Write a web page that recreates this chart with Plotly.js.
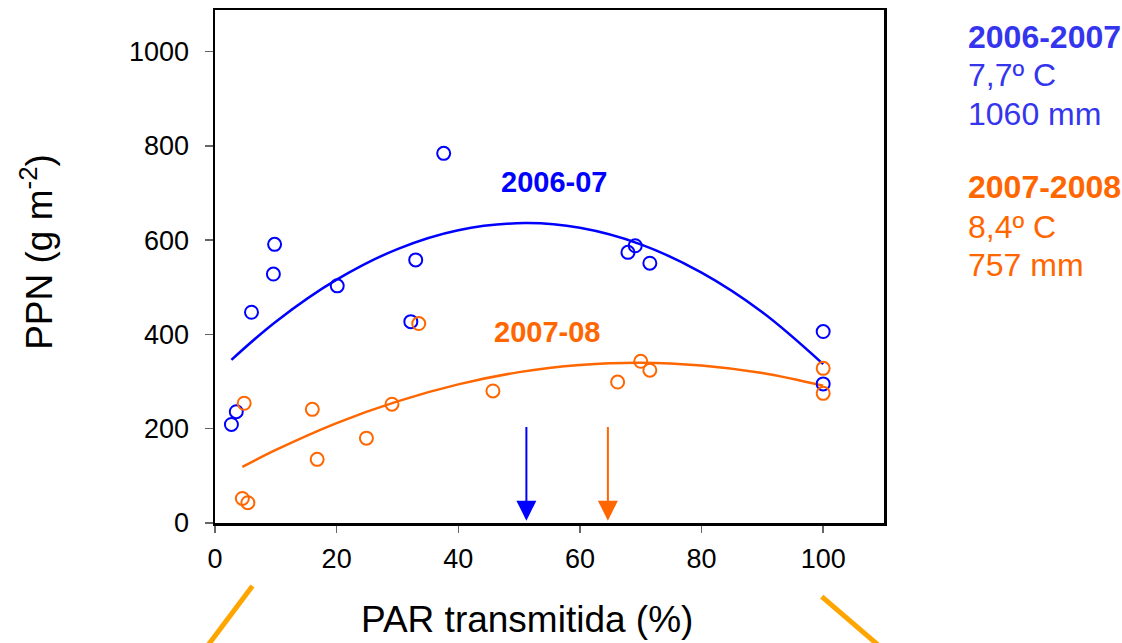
<!DOCTYPE html>
<html>
<head>
<meta charset="utf-8">
<script src="https://cdn.plot.ly/plotly-3.0.1.min.js"></script>
<style>html,body{margin:0;padding:0;background:#fff;}#chart{width:1122px;height:643px;}</style>
</head>
<body>
<div id="chart"></div>
<script>
// Observed points, season 2006-07
const blueX = [2.7, 3.5, 6.0, 9.6, 9.8, 20.1, 32.2, 33.0, 37.6, 67.9, 69.1, 71.5, 100, 100];
const blueY = [209, 236, 447, 528, 591, 503, 427, 558, 784, 574, 588, 551, 406, 295];
// Observed points, season 2007-08
const orangeX = [4.5, 4.8, 5.4, 16.0, 16.8, 24.9, 29.1, 33.5, 45.7, 66.2, 70.0, 71.5, 100, 100];
const orangeY = [52, 254, 43, 241, 135, 180, 252, 423, 280, 299, 343, 324, 328, 275];
// Fitted curves
const fitBlueX = [2.7, 10, 20, 30, 40, 51, 60, 70, 80, 90, 100];
const fitBlueY = [346, 427, 516, 581, 621, 636, 626, 591, 531, 447, 337];
const fitOrangeX = [4.5, 10, 20, 30, 40, 50, 60, 70, 80, 90, 100];
const fitOrangeY = [119, 155, 212, 258, 294, 320, 335, 340, 334, 318, 291];
// Optimum PAR arrows
const optimumX = [51.2, 64.6];
const arrowTopY = 207;
const arrowTipY = 5;
// Tick labels
const xTicks = [0, 20, 40, 60, 80, 100];
const yTicks = [0, 200, 400, 600, 800, 1000];
// Texts
const xTitle = 'PAR transmitida (%)';
const yTitle = 'PPN (g m<sup>-2</sup>)';
const seasonLabels = ['2006-07', '2007-08'];
const seasonInfo1 = ['2006-2007', '7,7º C', '1060 mm'];
const seasonInfo2 = ['2007-2008', '8,4º C', '757 mm'];

const BLUE = '#0000ff';
const ORANGE = '#ff6600';
const INFO_BLUE = '#3535ee';
const FONT = 'Liberation Sans, Arial, sans-serif';

const traces = [
  {x: fitBlueX, y: fitBlueY, mode: 'lines', line: {color: BLUE, width: 2.5, shape: 'spline'}, hoverinfo: 'skip'},
  {x: fitOrangeX, y: fitOrangeY, mode: 'lines', line: {color: ORANGE, width: 2.5, shape: 'spline'}, hoverinfo: 'skip'},
  {x: blueX, y: blueY, mode: 'markers', marker: {symbol: 'circle-open', size: 13, color: BLUE, line: {width: 2, color: BLUE}}},
  {x: orangeX, y: orangeY, mode: 'markers', marker: {symbol: 'circle-open', size: 13, color: ORANGE, line: {width: 2, color: ORANGE}}}
];

const arrowColors = [BLUE, ORANGE];
const annotations = optimumX.map((xv, i) => ({
  x: xv, y: arrowTipY, xref: 'x', yref: 'y',
  ax: xv, ay: arrowTopY, axref: 'x', ayref: 'y',
  text: '', showarrow: true, arrowhead: 2, arrowsize: 2, arrowwidth: 2,
  arrowcolor: arrowColors[i]
}));

annotations.push(
  {x: 55.8, y: 724, xref: 'x', yref: 'y', text: '<b>' + seasonLabels[0] + '</b>', showarrow: false,
   font: {family: FONT, size: 29, color: BLUE}},
  {x: 54.6, y: 405, xref: 'x', yref: 'y', text: '<b>' + seasonLabels[1] + '</b>', showarrow: false,
   font: {family: FONT, size: 29, color: ORANGE}},
  {x: 0.4667, y: -0.189, xref: 'paper', yref: 'paper', xanchor: 'center', yanchor: 'middle',
   text: xTitle, showarrow: false, font: {family: FONT, size: 37, color: '#000'}},
  {x: -0.2665, y: 0.528, xref: 'paper', yref: 'paper', xanchor: 'center', yanchor: 'middle', textangle: -90,
   text: yTitle, showarrow: false, font: {family: FONT, size: 37, color: '#000'}}
);

// Right-hand info block, one line each
const infoX = 1.1232;
const info1Y = [0.947, 0.873, 0.797];
const info2Y = [0.655, 0.577, 0.503];
seasonInfo1.forEach((t, i) => annotations.push({
  x: infoX, y: info1Y[i], xref: 'paper', yref: 'paper', xanchor: 'left', yanchor: 'middle',
  text: i === 0 ? '<b>' + t + '</b>' : t, showarrow: false,
  font: {family: FONT, size: 32, color: INFO_BLUE}
}));
seasonInfo2.forEach((t, i) => annotations.push({
  x: infoX, y: info2Y[i], xref: 'paper', yref: 'paper', xanchor: 'left', yanchor: 'middle',
  text: i === 0 ? '<b>' + t + '</b>' : t, showarrow: false,
  font: {family: FONT, size: 32, color: ORANGE}
}));

const layout = {
  width: 1122, height: 643,
  margin: {l: 215, r: 238, t: 10, b: 120, pad: 0},
  paper_bgcolor: '#ffffff', plot_bgcolor: '#ffffff',
  showlegend: false,
  font: {family: FONT, color: '#000'},
  xaxis: {
    range: [0, 110], tickvals: xTicks, ticktext: xTicks.map(String),
    showgrid: false, zeroline: false,
    showline: true, mirror: true, linecolor: '#000', linewidth: 2.5,
    ticks: 'outside', ticklen: 7, tickwidth: 1.5, tickcolor: '#666',
    tickfont: {family: FONT, size: 27, color: '#000'},
    ticklabelstandoff: 3,
    automargin: false
  },
  yaxis: {
    range: [0, 1088], tickvals: yTicks, ticktext: yTicks.map(String),
    showgrid: false, zeroline: false,
    showline: true, mirror: true, linecolor: '#000', linewidth: 2.5,
    ticks: 'outside', ticklen: 8, tickwidth: 1.5, tickcolor: '#666',
    tickfont: {family: FONT, size: 27, color: '#000'},
    ticklabelstandoff: 10,
    automargin: false
  },
  annotations: annotations,
  shapes: [
    {type: 'line', xref: 'paper', yref: 'paper', x0: 0.056, y0: -0.1228, x1: -0.0158, y1: -0.2476,
     line: {color: '#ffa500', width: 5}},
    {type: 'line', xref: 'paper', yref: 'paper', x0: 0.907, y0: -0.1437, x1: 1.0, y1: -0.2476,
     line: {color: '#ffa500', width: 5}}
  ]
};

Plotly.newPlot('chart', traces, layout, {displayModeBar: false, staticPlot: true});
</script>
</body>
</html>
